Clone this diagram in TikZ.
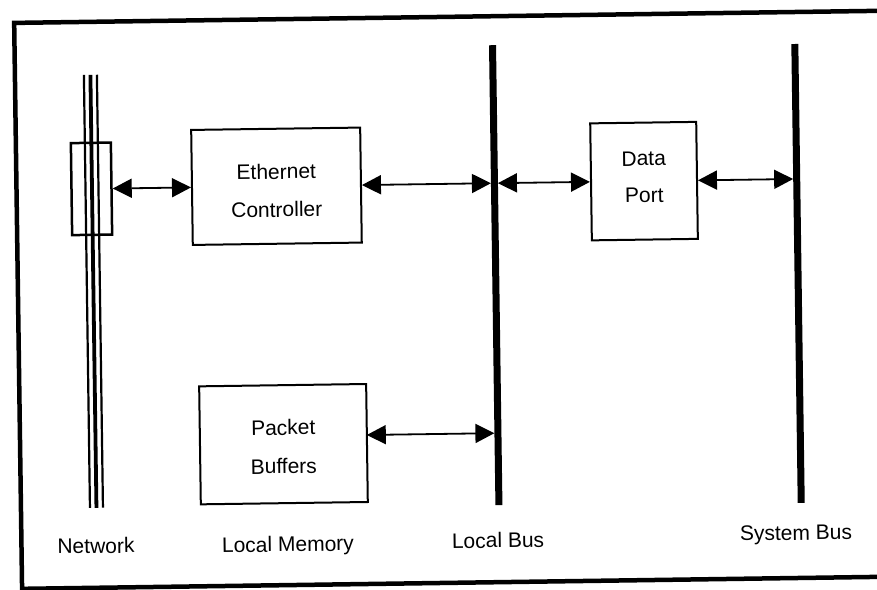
\documentclass[tikz,border=0pt]{standalone}
\usepackage{fontspec}
\setmainfont{Liberation Sans}
\usetikzlibrary{arrows.meta}
\begin{document}
\begin{tikzpicture}[x=1pt,y=-1pt,
  box/.style={draw, line width=2pt, inner sep=0pt, align=center},
  busbar/.style={fill=black, inner sep=0pt, minimum width=7pt},
  link/.style={line width=1.8pt,
    {Triangle[length=19pt,width=19pt]}-{Triangle[length=19pt,width=19pt]}},
  lbl/.style={anchor=base, inner sep=0pt, font=\fontsize{21}{25}\selectfont}]
\useasboundingbox (0,0) rectangle (877,589);
\fill[white] (0,0) rectangle (877,589);
\begin{scope}[rotate around={0.8:(438,295)}, transform shape]
  % outer frame
  \draw[line width=4.5pt] (18,17) rectangle (884,583);

  % network cable: three parallel conductors
  \draw[line width=2.2pt] (87,70) -- (87,503);
  \draw[line width=3.8pt] (93.5,70) -- (93.5,503);
  \draw[line width=2.2pt] (100,70) -- (100,503);
  \node[box, line width=2.5pt, minimum width=40pt, minimum height=92pt] (tap) at (93,184) {};

  % functional blocks (text height = top edge to last baseline, text depth = the rest)
  \node[box, minimum width=169pt, text height=88.3pt, text depth=26.7pt,
    font=\fontsize{21}{38}\selectfont] (eth)
    at (278,184) {Ethernet\\Controller};
  \node[box, minimum width=106pt, text height=80.1pt, text depth=36.9pt,
    font=\fontsize{21}{37}\selectfont] (dp)
    at (645.6,184) {Data\\Port};
  \node[box, minimum width=167pt, text height=88.5pt, text depth=29.5pt,
    font=\fontsize{21}{38.7}\selectfont] (pkt)
    at (281.4,442) {Packet\\Buffers};

  % buses
  \node[busbar, minimum height=460pt] (lbus) at (496,276) {};
  \node[busbar, minimum height=459pt] (sbus) at (798.3,278.5) {};

  % attachment points on the buses
  \coordinate (lbA) at (492.5,184);
  \coordinate (lbB) at (499.5,184);
  \coordinate (lbC) at (492.5,434);
  \coordinate (sbA) at (794.8,184);
  \coordinate (pkP) at (364.9,434);

  % connections
  \draw[link] (tap.east) -- (eth.west);
  \draw[link] (eth.east) -- (lbA);
  \draw[link] (lbB) -- (dp.west);
  \draw[link] (dp.east) -- (sbA);
  \draw[link] (pkP) -- (lbC);

  % captions
  \node[lbl] (lnet) at (92.5,548.5) {Network};
  \node[lbl] (lmem) at (284.5,549.5) {Local Memory};
  \node[lbl] (llb) at (494.6,548.5) {Local Bus};
  \node[lbl] (lsb) at (792.7,545) {System Bus};
\end{scope}
\end{tikzpicture}
\end{document}
